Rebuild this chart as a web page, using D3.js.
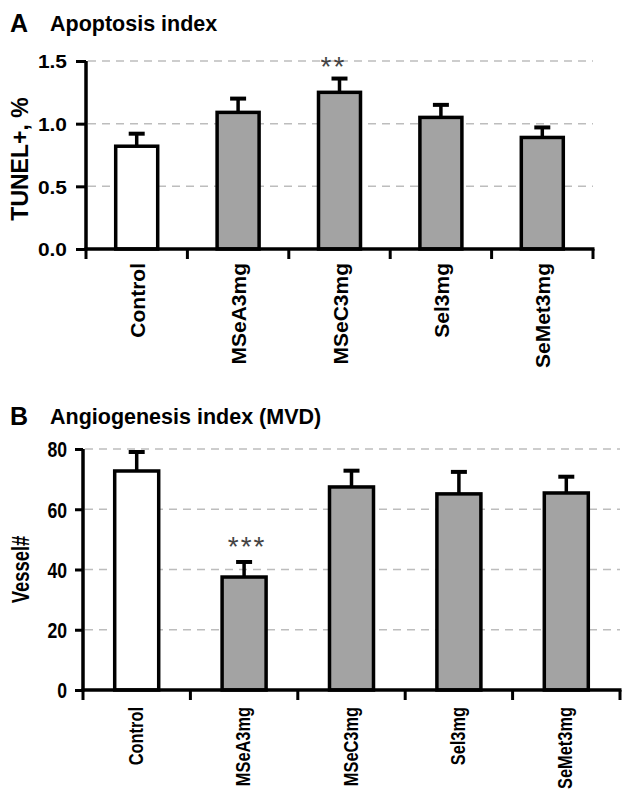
<!DOCTYPE html>
<html>
<head>
<meta charset="utf-8">
<script src="https://cdn.jsdelivr.net/npm/d3@7/dist/d3.min.js"></script>
<style>
  body { margin: 0; background: #fff; }
  text { font-family: "Liberation Sans", Arial, sans-serif; font-weight: bold; }
</style>
</head>
<body>
<script>
// groups, same for both panels
var groups = ["Control", "MSeA3mg", "MSeC3mg", "Sel3mg", "SeMet3mg"];

// panel A: apoptosis index (TUNEL+, %)
var tunelMean = [0.82, 1.09, 1.25, 1.05, 0.89];
var tunelErr  = [0.10, 0.11, 0.11, 0.10, 0.08];
var tunelTicks = [0.0, 0.5, 1.0, 1.5];
var tunelStars = ["", "", "**", "", ""];

// panel B: angiogenesis index (vessel count)
var vesselMean = [72.7, 37.5, 67.4, 65.1, 65.4];
var vesselErr  = [6.3, 5.0, 5.4, 7.3, 5.4];
var vesselTicks = [0, 20, 40, 60, 80];
var vesselStars = ["", "***", "", "", ""];

var fills = ["#ffffff", "#a3a3a3", "#a3a3a3", "#a3a3a3", "#a3a3a3"];

var svg = d3.select("body").append("svg")
  .attr("width", 623)
  .attr("height", 793);

function panel(o)
{
  var g = svg.append("g");

  var x = d3.scaleBand().domain(groups).range([o.left, o.right]).paddingInner(0).paddingOuter(0);
  var y = d3.scaleLinear().domain(o.domain).range([o.bottom, o.top]);
  var bw = o.barW;

  // dashed grid
  g.selectAll(".grid")
    .data(o.ticks.filter(function(d) { return d > 0; }))
    .enter().append("line")
    .attr("x1", o.left + 2).attr("x2", o.right)
    .attr("y1", function(d) { return y(d); })
    .attr("y2", function(d) { return y(d); })
    .attr("stroke", "#bdbdbd")
    .attr("stroke-width", 1.5)
    .attr("stroke-dasharray", "8,6");

  // error bars
  var eb = g.selectAll(".err").data(groups).enter().append("g");
  eb.append("line")
    .attr("x1", function(d) { return x(d) + x.bandwidth() / 2; })
    .attr("x2", function(d) { return x(d) + x.bandwidth() / 2; })
    .attr("y1", function(d, i) { return y(o.mean[i]); })
    .attr("y2", function(d, i) { return y(o.mean[i] + o.err[i]); })
    .attr("stroke", "#000").attr("stroke-width", 3.5);
  eb.append("line")
    .attr("x1", function(d) { return x(d) + x.bandwidth() / 2 - 8; })
    .attr("x2", function(d) { return x(d) + x.bandwidth() / 2 + 8; })
    .attr("y1", function(d, i) { return y(o.mean[i] + o.err[i]); })
    .attr("y2", function(d, i) { return y(o.mean[i] + o.err[i]); })
    .attr("stroke", "#000").attr("stroke-width", 4);

  // bars
  g.selectAll(".bar").data(groups).enter().append("rect")
    .attr("x", function(d) { return x(d) + (x.bandwidth() - bw) / 2; })
    .attr("y", function(d, i) { return y(o.mean[i]); })
    .attr("width", bw)
    .attr("height", function(d, i) { return y(0) - y(o.mean[i]); })
    .attr("fill", function(d, i) { return fills[i]; })
    .attr("stroke", "#000")
    .attr("stroke-width", 3.5);

  // significance stars
  g.selectAll(".star").data(groups).enter().append("text")
    .attr("x", function(d) { return x(d) + x.bandwidth() / 2 + o.starDx; })
    .attr("y", function(d, i) { return y(o.mean[i] + o.err[i]) - o.starUp; })
    .attr("text-anchor", "middle")
    .attr("fill", "#444")
    .style("font-size", "28px")
    .style("font-weight", "normal")
    .style("letter-spacing", "2px")
    .text(function(d, i) { return o.stars[i]; });

  // y axis
  var ya = d3.axisLeft(y).tickValues(o.ticks).tickFormat(o.fmt).tickSize(o.tick).tickPadding(o.pad);
  var yg = g.append("g").attr("transform", "translate(" + o.left + ",0)").call(ya);
  yg.select(".domain").attr("stroke-width", 3.5).attr("d", "M0," + (o.bottom + 1.5) + "V" + o.top);
  yg.selectAll(".tick line").attr("stroke-width", 3);
  yg.selectAll(".tick text").style("font-size", o.tickFont + "px").attr("fill", "#000")
    .attr("font-family", null).attr("dy", "0.36em")
    .attr("x", 0)
    .attr("transform", "translate(" + (-o.tick - o.pad) + ",0) scale(" + o.tickSx + ",1)");

  // x axis with ticks at band edges
  var edges = groups.map(function(d) { return x(d); }).concat([o.right]);
  g.append("line")
    .attr("x1", o.left - 1.5).attr("x2", o.right + 1.5)
    .attr("y1", o.bottom).attr("y2", o.bottom)
    .attr("stroke", "#000").attr("stroke-width", 3.5);
  g.selectAll(".xt").data(edges).enter().append("line")
    .attr("x1", function(d) { return d; }).attr("x2", function(d) { return d; })
    .attr("y1", o.bottom).attr("y2", o.bottom + 10)
    .attr("stroke", "#000").attr("stroke-width", 3);

  g.selectAll(".xl").data(groups).enter().append("text")
    .attr("transform", function(d) {
      return "translate(" + (x(d) + x.bandwidth() / 2 + o.labDx) + "," + o.labTop + ") rotate(-90) scale(" + o.labSx + ",1)";
    })
    .attr("text-anchor", "end")
    .style("font-size", o.labFont + "px")
    .text(function(d) { return d; });

  // y label
  g.append("text")
    .attr("transform", "translate(" + o.ylabX + "," + ((o.top + o.bottom) / 2 + o.ylabDy) + ") rotate(-90) scale(" + o.ylabSx + ",1)")
    .attr("text-anchor", "middle")
    .style("font-size", o.ylabFont + "px")
    .text(o.ylab);

  // panel letter and title
  g.append("text").attr("x", 10).attr("y", o.titleY + 1)
    .style("font-size", "25px").text(o.letter);
  g.append("text").attr("x", 50).attr("y", o.titleY)
    .style("font-size", "21.5px").text(o.title);
}

panel({
  letter: "A", title: "Apoptosis index", titleY: 31,
  left: 86, right: 593, top: 61, bottom: 249, domain: [0, 1.5],
  barW: 42, mean: tunelMean, err: tunelErr, ticks: tunelTicks, stars: tunelStars,
  fmt: d3.format(".1f"), tick: 10, pad: 9, tickFont: 19, tickSx: 1.1,
  starDx: -6, starUp: 3,
  labDx: 8, labTop: 263, labFont: 21, labSx: 1,
  ylab: "TUNEL+, %", ylabX: 28, ylabDy: 4, ylabFont: 23, ylabSx: 1
});

panel({
  letter: "B", title: "Angiogenesis index (MVD)", titleY: 424,
  left: 83, right: 620, top: 449, bottom: 690, domain: [0, 80],
  barW: 44, mean: vesselMean, err: vesselErr, ticks: vesselTicks, stars: vesselStars,
  fmt: d3.format("d"), tick: 8, pad: 8, tickFont: 22, tickSx: 0.8,
  starDx: 3, starUp: 6,
  labDx: 6, labTop: 707, labFont: 20, labSx: 0.82,
  ylab: "Vessel#", ylabX: 29, ylabDy: 0, ylabFont: 23, ylabSx: 0.8
});
</script>
</body>
</html>
